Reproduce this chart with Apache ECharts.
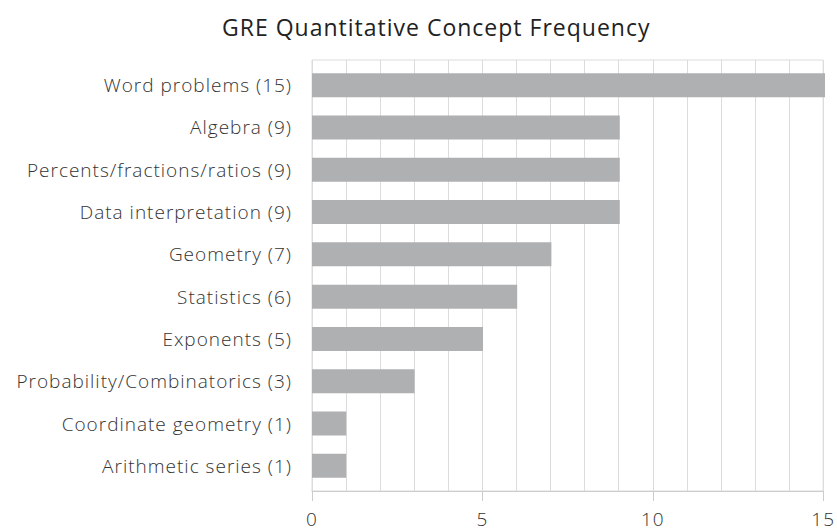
<!DOCTYPE html>
<html>
<head>
<meta charset="utf-8">
<script src="https://cdn.jsdelivr.net/npm/echarts@6/dist/echarts.min.js"></script>
<style>
  html, body { margin: 0; padding: 0; background: #fff; }
  #chart { width: 837px; height: 531px; }
  /* the reference type is set wider than Open Sans */
  #chart text { letter-spacing: 1px; }
</style>
</head>
<body>
<div id="chart"></div>
<script>
const categories = [
  'Word problems (15)',
  'Algebra (9)',
  'Percents/fractions/ratios (9)',
  'Data interpretation (9)',
  'Geometry (7)',
  'Statistics (6)',
  'Exponents (5)',
  'Probability/Combinatorics (3)',
  'Coordinate geometry (1)',
  'Arithmetic series (1)'
];
const counts = [15, 9, 9, 9, 7, 6, 5, 3, 1, 1];
const xMin = 0;
const xMax = 15;
const xStep = 5;

const chart = echarts.init(document.getElementById('chart'), null, { renderer: 'svg' });
const font = '"Open Sans", "Noto Sans", sans-serif';

const option = {
  animation: false,
  title: {
    text: 'GRE Quantitative Concept Frequency',
    left: 217,
    top: 10,
    textStyle: { fontFamily: font, fontSize: 23, fontWeight: 'normal', color: '#222' }
  },
  grid: [
    // bars
    { left: 312, right: 12, top: 64, bottom: 44 },
    // frame + axis
    { left: 312, right: 12, top: 60, bottom: 40, show: true, borderColor: '#dcdcdc', borderWidth: 1 }
  ],
  xAxis: [
    { type: 'value', gridIndex: 0, min: xMin, max: xMax, show: false },
    {
      type: 'value',
      gridIndex: 1,
      min: xMin,
      max: xMax,
      interval: xStep,
      axisLine: { show: true, lineStyle: { color: '#cccccc', width: 1 } },
      axisTick: { show: true, length: 10, lineStyle: { color: '#cccccc' } },
      minorTick: { show: false, splitNumber: 5 },
      splitLine: { show: true, lineStyle: { color: '#dcdcdc', width: 1 } },
      minorSplitLine: { show: true, lineStyle: { color: '#dcdcdc', width: 1 } },
      axisLabel: { margin: 18, fontFamily: font, fontSize: 19, fontWeight: 300, color: '#333' }
    }
  ],
  yAxis: [
    {
      type: 'category',
      gridIndex: 0,
      data: categories,
      inverse: true,
      axisLine: { show: false },
      axisTick: { show: false },
      splitLine: { show: false },
      axisLabel: { margin: 20, fontFamily: font, fontSize: 19, fontWeight: 300, color: '#333' }
    },
    { type: 'value', gridIndex: 1, show: false }
  ],
  series: [
    {
      type: 'bar',
      xAxisIndex: 0,
      yAxisIndex: 0,
      data: counts,
      barWidth: 24,
      itemStyle: { color: '#aeb0b2' }
    }
  ]
};

chart.setOption(option);
</script>
</body>
</html>
